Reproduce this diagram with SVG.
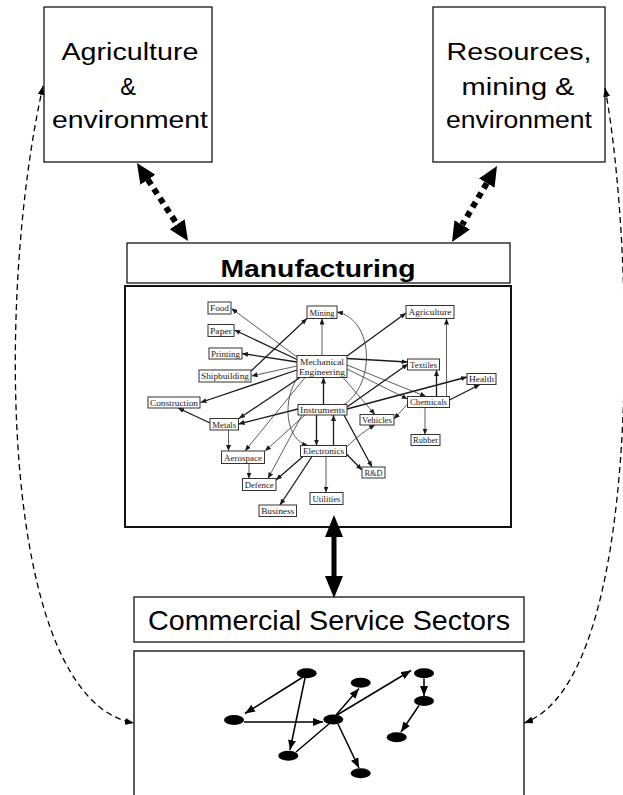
<svg xmlns="http://www.w3.org/2000/svg" width="623" height="795" viewBox="0 0 623 795">
<defs>
<style>
.box{fill:#fff;stroke:#000;stroke-width:1.2}
.big{font-family:"Liberation Sans",Arial,sans-serif;font-size:23.5px;fill:#000;text-anchor:middle}
.nb{fill:#fff;stroke:#333;stroke-width:1}
.nt{font-family:"Liberation Serif","Times New Roman",serif;font-size:9.2px;fill:#1a1a1a;text-anchor:middle}
.e1{fill:none;stroke:#1a1a1a;stroke-width:1.3;marker-end:url(#mn)}
.e2{fill:none;stroke:#333;stroke-width:0.8;marker-end:url(#mn)}
.dot{fill:none;stroke:#000;stroke-width:6;stroke-dasharray:6 5;marker-start:url(#mb);marker-end:url(#mb)}
.dash{fill:none;stroke:#000;stroke-width:1.3;stroke-dasharray:6 4;marker-start:url(#md);marker-end:url(#md)}
.ln{fill:none;stroke:#000;stroke-width:1.5}
.la{fill:none;stroke:#000;stroke-width:1.5;marker-end:url(#mk)}
.nd{fill:#000}
</style>
<marker id="mb" markerUnits="userSpaceOnUse" markerWidth="20" markerHeight="18" refX="0" refY="9" orient="auto-start-reverse"><path d="M0,0 L20,9 L0,18 z" fill="#000" stroke="none"/></marker>
<marker id="mt" markerUnits="userSpaceOnUse" markerWidth="22" markerHeight="18" refX="0" refY="9" orient="auto-start-reverse"><path d="M0,0 L22,9 L0,18 z" fill="#000" stroke="none"/></marker>
<marker id="md" markerUnits="userSpaceOnUse" markerWidth="9" markerHeight="7" refX="9" refY="3.5" orient="auto-start-reverse"><path d="M0,0 L9,3.5 L0,7 z" fill="#000" stroke="none"/></marker>
<marker id="mn" markerUnits="userSpaceOnUse" markerWidth="6" markerHeight="5" refX="6" refY="2.5" orient="auto"><path d="M0,0 L6,2.5 L0,5 z" fill="#1a1a1a" stroke="none"/></marker>
<marker id="mk" markerUnits="userSpaceOnUse" markerWidth="10" markerHeight="8" refX="10" refY="4" orient="auto"><path d="M0,0 L10,4 L0,8 z" fill="#000" stroke="none"/></marker>
</defs>
<rect width="623" height="795" fill="#fff"/>

<g id="agriculture">
<rect class="box" x="44" y="7" width="168" height="155"/>
<text class="big" x="130" y="60" textLength="137" lengthAdjust="spacingAndGlyphs">Agriculture</text>
<text class="big" x="128" y="95">&amp;</text>
<text class="big" x="130" y="128" textLength="156" lengthAdjust="spacingAndGlyphs">environment</text>
</g>

<g id="resources">
<rect class="box" x="433" y="7" width="172" height="155"/>
<text class="big" x="519" y="60" textLength="145" lengthAdjust="spacingAndGlyphs">Resources,</text>
<text class="big" x="518" y="95" textLength="113" lengthAdjust="spacingAndGlyphs">mining &amp;</text>
<text class="big" x="519" y="128" textLength="146" lengthAdjust="spacingAndGlyphs">environment</text>
</g>

<g id="manufacturing">
<rect class="box" x="127" y="243" width="383" height="40"/>
<text x="318" y="277" font-family="'Liberation Sans',Arial,sans-serif" font-size="24.5" font-weight="bold" text-anchor="middle" textLength="195" lengthAdjust="spacingAndGlyphs">Manufacturing</text>
<rect x="125" y="286" width="386" height="241" fill="#fff" stroke="#111" stroke-width="2"/>
<g id="manufacturing-network">
<g id="net-edges">
<path class="e2" d="M297,357 L231.5,308.5"/>
<path class="e1" d="M297,359.5 L234.5,330"/>
<path class="e1" d="M297,362 L242,353.5"/>
<path class="e1" d="M251,371 L307,318.5"/>
<path class="e2" d="M297,366 L251.5,376"/>
<path class="e1" d="M297,370 L200.5,402.5"/>
<path class="e2" d="M322,355.5 L322,318.5"/>
<path class="e1" d="M347,356 L406,313"/>
<path class="e1" d="M347,358.5 L407.5,362"/>
<path class="e2" d="M347,365 L426,396.5"/>
<path class="e2" d="M347,369 L407.5,399"/>
<path class="e2" d="M343,377.5 L375,414.5"/>
<path class="e1" d="M323.5,404.5 L323.5,377.5"/>
<path class="e1" d="M347,407 L408,364"/>
<path class="e1" d="M347,409 L467,377"/>
<path class="e1" d="M449.5,400 L480,384.5"/>
<path class="e1" d="M436.5,396.5 L436.5,370"/>
<path class="e2" d="M446.5,396.5 L446.5,318.5"/>
<path class="e2" d="M425,407.5 L425,434.5"/>
<path class="e2" d="M407.5,404 L394,419"/>
<path class="e1" d="M316.5,415 L316.5,445.5"/>
<path class="e1" d="M333.5,445.5 L333.5,415"/>
<path class="e1" d="M344,415 L372,467"/>
<path class="e1" d="M346.5,454 L362,470"/>
<path class="e2" d="M326,456.5 L326,492.5"/>
<path class="e1" d="M303,456.5 L276,480"/>
<path class="e1" d="M312,456.5 L280,505"/>
<path class="e2" d="M346.5,447 Q362,432 375,425"/>
<path class="e1" d="M298,409 L238.5,424"/>
<path class="e1" d="M300,377.5 L239,418.5"/>
<path class="e1" d="M210,423 L178,408"/>
<path class="e2" d="M228.5,430 L228.5,451"/>
<path class="e2" d="M249,463.5 L249,478.5"/>
<path class="e2" d="M305,377.5 L245,451"/>
<path class="e2" d="M305,415 L265,451"/>
<path class="e2" d="M302,415 L268,478.5"/>
<path class="e2" d="M344,404.5 C375,385 375,320 337,312"/>
<path class="e2" d="M298,377 C282,400 285,440 308,445.5"/>
</g>
<g id="n-food"><rect class="nb" x="208" y="302" width="23" height="12"/><text class="nt" x="219.5" y="311.3" textLength="19" lengthAdjust="spacingAndGlyphs">Food</text></g>
<g id="n-paper"><rect class="nb" x="208" y="324.5" width="26" height="12"/><text class="nt" x="221" y="333.8" textLength="22" lengthAdjust="spacingAndGlyphs">Paper</text></g>
<g id="n-printing"><rect class="nb" x="209" y="348" width="33" height="11"/><text class="nt" x="225.5" y="356.8" textLength="29" lengthAdjust="spacingAndGlyphs">Printing</text></g>
<g id="n-shipbuilding"><rect class="nb" x="199" y="370" width="52" height="12"/><text class="nt" x="225" y="379.3" textLength="48" lengthAdjust="spacingAndGlyphs">Shipbuilding</text></g>
<g id="n-construction"><rect class="nb" x="148" y="397" width="52" height="11"/><text class="nt" x="174" y="405.8" textLength="48" lengthAdjust="spacingAndGlyphs">Construction</text></g>
<g id="n-mining"><rect class="nb" x="307" y="306" width="30" height="12.5"/><text class="nt" x="322" y="315.6" textLength="25" lengthAdjust="spacingAndGlyphs">Mining</text></g>
<g id="n-mecheng"><rect class="nb" x="297" y="355.5" width="50" height="22"/><text class="nt" x="322" y="365" textLength="44" lengthAdjust="spacingAndGlyphs">Mechanical</text><text class="nt" x="322" y="374.8" textLength="46" lengthAdjust="spacingAndGlyphs">Engineering</text></g>
<g id="n-instruments"><rect class="nb" x="298" y="404.5" width="49" height="10.5"/><text class="nt" x="322.5" y="412.8" textLength="45" lengthAdjust="spacingAndGlyphs">Instruments</text></g>
<g id="n-metals"><rect class="nb" x="210" y="418.5" width="28.5" height="11.5"/><text class="nt" x="224.2" y="427.5" textLength="24" lengthAdjust="spacingAndGlyphs">Metals</text></g>
<g id="n-aerospace"><rect class="nb" x="221.5" y="451" width="43" height="12.5"/><text class="nt" x="243" y="460.6" textLength="38" lengthAdjust="spacingAndGlyphs">Aerospace</text></g>
<g id="n-electronics"><rect class="nb" x="300.5" y="445.5" width="46" height="11"/><text class="nt" x="323.5" y="454.3" textLength="41" lengthAdjust="spacingAndGlyphs">Electronics</text></g>
<g id="n-defence"><rect class="nb" x="242.5" y="478.5" width="33.5" height="12"/><text class="nt" x="259.2" y="487.8" textLength="29" lengthAdjust="spacingAndGlyphs">Defence</text></g>
<g id="n-utilities"><rect class="nb" x="310" y="492.5" width="33" height="12"/><text class="nt" x="326.5" y="501.8" textLength="28" lengthAdjust="spacingAndGlyphs">Utilities</text></g>
<g id="n-business"><rect class="nb" x="259" y="505" width="37.5" height="11.5"/><text class="nt" x="277.7" y="514" textLength="33" lengthAdjust="spacingAndGlyphs">Business</text></g>
<g id="n-rd"><rect class="nb" x="362" y="467" width="23" height="11"/><text class="nt" x="373.5" y="475.8" textLength="18" lengthAdjust="spacingAndGlyphs">R&amp;D</text></g>
<g id="n-vehicles"><rect class="nb" x="360" y="414.5" width="34" height="10.5"/><text class="nt" x="377" y="422.8" textLength="30" lengthAdjust="spacingAndGlyphs">Vehicles</text></g>
<g id="n-agriculture"><rect class="nb" x="406" y="305.5" width="48" height="13"/><text class="nt" x="430" y="315.2" textLength="43" lengthAdjust="spacingAndGlyphs">Agriculture</text></g>
<g id="n-textiles"><rect class="nb" x="407.5" y="359" width="32" height="11"/><text class="nt" x="423.5" y="367.8" textLength="27" lengthAdjust="spacingAndGlyphs">Textiles</text></g>
<g id="n-health"><rect class="nb" x="467" y="373.5" width="29" height="11"/><text class="nt" x="481.5" y="382.3" textLength="25" lengthAdjust="spacingAndGlyphs">Health</text></g>
<g id="n-chemicals"><rect class="nb" x="407.5" y="396.5" width="42" height="11"/><text class="nt" x="428.5" y="405.3" textLength="37" lengthAdjust="spacingAndGlyphs">Chemicals</text></g>
<g id="n-rubber"><rect class="nb" x="411" y="434.5" width="29" height="11"/><text class="nt" x="425.5" y="443.3" textLength="25" lengthAdjust="spacingAndGlyphs">Rubber</text></g>
</g>
</g>

<g id="commercial">
<rect x="134" y="597" width="390" height="45" fill="#fff" stroke="#333" stroke-width="1.5"/>
<text x="329" y="630" font-family="'Liberation Sans',Arial,sans-serif" font-size="27.5" text-anchor="middle" textLength="362" lengthAdjust="spacingAndGlyphs">Commercial Service Sectors</text>
</g>

<g id="services">
<rect x="134" y="651" width="390" height="160" fill="#fff" stroke="#333" stroke-width="1.6"/>
<g id="service-edges">
<path class="la" d="M303,677 L245,713.5"/>
<path class="la" d="M305,678 L290,750"/>
<path class="la" d="M244,722 L323,722"/>
<path class="ln" d="M296,752 L330,723"/>
<path class="la" d="M336,715 L359,688.5"/>
<path class="la" d="M337,715 L411,670.5"/>
<path class="la" d="M338,724 L359,768"/>
<path class="la" d="M424,678.5 L424,696"/>
<path class="la" d="M419,705.5 L401,732"/>
</g>
<g id="service-nodes">
<ellipse class="nd" cx="306.7" cy="673.3" rx="10" ry="5"/>
<ellipse class="nd" cx="360.7" cy="682.7" rx="10" ry="5"/>
<ellipse class="nd" cx="424" cy="673.3" rx="10" ry="5"/>
<ellipse class="nd" cx="424" cy="701" rx="10" ry="5"/>
<ellipse class="nd" cx="234" cy="720" rx="10" ry="5"/>
<ellipse class="nd" cx="333.3" cy="719.5" rx="10" ry="5"/>
<ellipse class="nd" cx="396.7" cy="737.3" rx="10" ry="5"/>
<ellipse class="nd" cx="288.3" cy="755.7" rx="10" ry="5"/>
<ellipse class="nd" cx="360.7" cy="773.3" rx="10" ry="5"/>
</g>
</g>

<g id="connectors">
<path class="dot" d="M147.9,179.7 L177.1,224.3"/>
<path class="dot" d="M486.8,183.2 L462.2,224.8"/>
<path d="M334,537 L334,576" fill="none" stroke="#000" stroke-width="5" marker-start="url(#mt)" marker-end="url(#mt)"/>
<path class="dash" d="M43,86 C-5,300 0,700 134,723"/>
<path class="dash" d="M605,88 C635,250 645,680 524,723"/>
</g>
</svg>
